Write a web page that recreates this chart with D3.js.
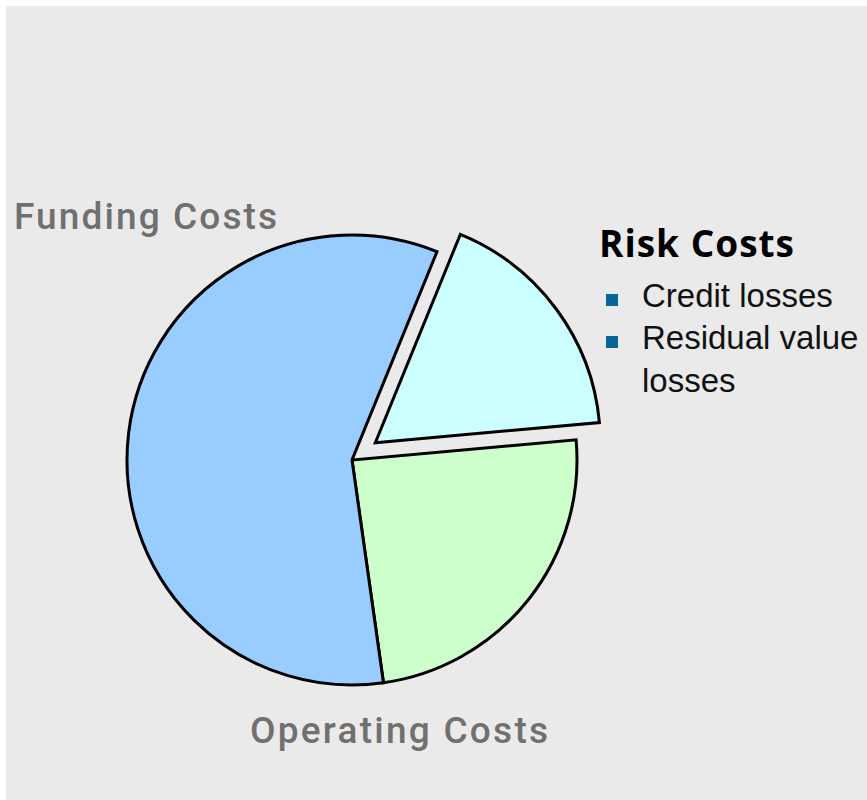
<!DOCTYPE html>
<html>
<head>
<meta charset="utf-8">
<script src="https://cdn.jsdelivr.net/npm/d3@7"></script>
<style>
  html, body { margin: 0; padding: 0; background: #ffffff; }
  svg { display: block; }
</style>
</head>
<body>
<svg id="chart" width="867" height="800"></svg>
<script>
// Cost components (share of total, %)
const categories = ["Risk Costs", "Operating Costs", "Funding Costs"];
const shares = [17.4, 24.2, 58.4];
const colors = ["#CCFFFF", "#CCFFCC", "#99CCFF"];
const exploded = [true, false, false];
const riskItems = ["Credit losses", "Residual value", "losses"];
const riskBullets = [true, true, false];

const svg = d3.select("#chart");
const W = 867, H = 800;

svg.append("rect")
  .attr("x", 6).attr("y", 6)
  .attr("width", W - 6).attr("height", H - 6)
  .attr("fill", "#EAEAEA");

const cx = 352, cy = 460, radius = 225, explodeOffset = 29;
const start = 22.2 * Math.PI / 180;

const pie = d3.pie().sort(null).value(d => d.v)
  .startAngle(start).endAngle(start + 2 * Math.PI);
const arc = d3.arc().innerRadius(0).outerRadius(radius);

const data = categories.map((c, i) => ({ name: c, v: shares[i], color: colors[i], ex: exploded[i] }));
const arcs = pie(data);

const g = svg.append("g").attr("transform", `translate(${cx},${cy})`);
g.selectAll("path.slice")
  .data(arcs)
  .join("path")
  .attr("class", "slice")
  .attr("d", arc)
  .attr("fill", d => d.data.color)
  .attr("stroke", "#000")
  .attr("stroke-width", 3)
  .attr("stroke-linejoin", "miter")
  .attr("transform", d => {
    if (!d.data.ex) return null;
    const m = (d.startAngle + d.endAngle) / 2;
    return `translate(${Math.sin(m) * explodeOffset},${-Math.cos(m) * explodeOffset})`;
  });

// Slice labels
svg.append("text")
  .attr("x", 14).attr("y", 229)
  .attr("font-family", "Roboto, sans-serif")
  .attr("font-weight", 500)
  .attr("font-size", 37)
  .attr("textLength", 263)
  .attr("lengthAdjust", "spacing")
  .attr("fill", "#707070")
  .text(categories[2]);

svg.append("text")
  .attr("x", 250).attr("y", 743)
  .attr("font-family", "Roboto, sans-serif")
  .attr("font-weight", 500)
  .attr("font-size", 37)
  .attr("textLength", 298)
  .attr("lengthAdjust", "spacing")
  .attr("fill", "#707070")
  .text(categories[1]);

svg.append("text")
  .attr("x", 599).attr("y", 257)
  .attr("font-family", "'Open Sans', sans-serif")
  .attr("font-weight", 700)
  .attr("font-size", 37)
  .attr("textLength", 195)
  .attr("lengthAdjust", "spacing")
  .attr("fill", "#000")
  .text(categories[0]);

const itemY = [307, 349, 392];
riskItems.forEach((t, i) => {
  if (riskBullets[i]) {
    svg.append("rect")
      .attr("x", 606).attr("y", itemY[i] - 13)
      .attr("width", 12).attr("height", 12)
      .attr("fill", "#066699");
  }
  svg.append("text")
    .attr("x", 642).attr("y", itemY[i])
    .attr("font-family", "'Liberation Sans', Arial, sans-serif")
    .attr("font-size", 33)
    .attr("fill", "#111")
    .text(t);
});
</script>
</body>
</html>
